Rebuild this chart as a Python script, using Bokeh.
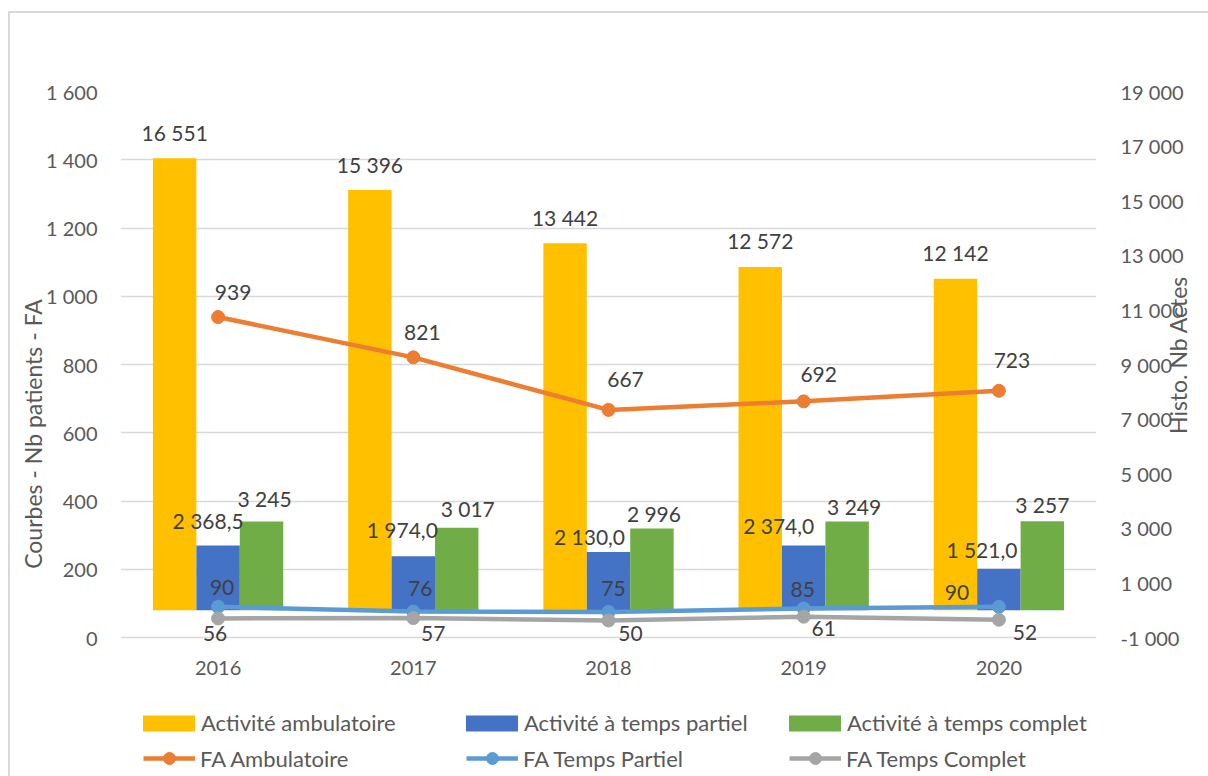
import math

from bokeh.core.properties import value
from bokeh.embed import file_html
from bokeh.models import (ColumnDataSource, FactorRange, FixedTicker, Legend,
                          LegendItem, LinearAxis, Range1d)
from bokeh.plotting import figure
from bokeh.resources import INLINE
from bokeh.transform import dodge

# ---- data -------------------------------------------------------------
years = ["2016", "2017", "2018", "2019", "2020"]

# bars (right axis): number of acts
actes_ambulatoire = [16551, 15396, 13442, 12572, 12142]
actes_temps_partiel = [2368.5, 1974.0, 2130.0, 2374.0, 1521.0]
actes_temps_complet = [3245, 3017, 2996, 3249, 3257]

# curves (left axis): number of patients
fa_ambulatoire = [939, 821, 667, 692, 723]
fa_temps_partiel = [90, 76, 75, 85, 90]
fa_temps_complet = [56, 57, 50, 61, 52]

left_ticks = [0, 200, 400, 600, 800, 1000, 1200, 1400, 1600]
right_ticks = [-1000, 1000, 3000, 5000, 7000, 9000, 11000, 13000, 15000, 17000, 19000]

# label nudges in pixels: (right, up) from the anchor point
nudge_ambulatoire = [(0, 26), (0, 25), (0, 26), (0, 26), (0, 26)]
nudge_temps_partiel = [(-10, 25), (-11, 27), (-19, 16), (-25, 20), (-17, 19)]
nudge_temps_complet = [(3, 23), (11, 19), (2, 15), (7, 15), (0, 17)]
nudge_fa_amb = [(15, 25), (9, 25), (17, 30), (15, 27), (13, 30)]
nudge_fa_partiel = [(4, 19), (7, 23), (5, 23), (-1, 19), (-42, 14)]
nudge_fa_complet = [(-3, -15), (20, -15), (22, -13), (20, -12), (26, -13)]

# ---- styling ----------------------------------------------------------
FONT = "Lato"
C_AMB, C_PART, C_COMP = "#FFC000", "#4472C4", "#70AD47"
C_FA_AMB, C_FA_PART, C_FA_COMP = "#ED7D31", "#5B9BD5", "#A5A5A5"
AXIS_TEXT = "#595959"
LABEL_TEXT = "#404040"
BAR_W = 0.2225
# the plot area continues below the zero line to hold the category labels and legend
BOTTOM_PAD = 139 / 546


def fmt_int(v):
    return f"{v:,.0f}".replace(",", " ")


def fmt_dec(v):
    return f"{v:,.1f}".replace(",", " ").replace(".", ",")


def offsets(nudges):
    return [dx for dx, _ in nudges], [-dy for _, dy in nudges]


src = ColumnDataSource(dict(
    year=years,
    amb=actes_ambulatoire, part=actes_temps_partiel, comp=actes_temps_complet,
    fa_amb=fa_ambulatoire, fa_part=fa_temps_partiel, fa_comp=fa_temps_complet,
    amb_txt=[fmt_int(v) for v in actes_ambulatoire],
    part_txt=[fmt_dec(v) for v in actes_temps_partiel],
    comp_txt=[fmt_int(v) for v in actes_temps_complet],
    fa_amb_txt=[fmt_int(v) for v in fa_ambulatoire],
    fa_part_txt=[fmt_int(v) for v in fa_temps_partiel],
    fa_comp_txt=[fmt_int(v) for v in fa_temps_complet],
))
for key, nud in [("amb", nudge_ambulatoire), ("part", nudge_temps_partiel),
                 ("comp", nudge_temps_complet), ("fa_amb", nudge_fa_amb),
                 ("fa_part", nudge_fa_partiel), ("fa_comp", nudge_fa_complet)]:
    xo, yo = offsets(nud)
    src.data[key + "_dx"] = xo
    src.data[key + "_dy"] = yo

l_lo, l_hi = left_ticks[0], left_ticks[-1]
r_lo, r_hi = right_ticks[0], right_ticks[-1]

p = figure(
    width=1208, height=776,
    x_range=FactorRange(*years),
    y_range=Range1d(l_lo - BOTTOM_PAD * (l_hi - l_lo), l_hi),
    output_backend="svg", toolbar_location=None,
    min_border_left=120, min_border_right=111, min_border_top=91, min_border_bottom=0,
    background_fill_color="white", border_fill_color=None,
)
p.extra_y_ranges = {"actes": Range1d(r_lo - BOTTOM_PAD * (r_hi - r_lo), r_hi)}
p.outline_line_color = None
# light grey chart-area border along the top and left edges
p.styles = {"box-shadow": "inset 8px 11px 0 0 white, inset 10px 13px 0 0 #d9d9d9",
            "background-color": "white"}

# ---- bars -------------------------------------------------------------
bar_specs = [("amb", -BAR_W, C_AMB), ("part", 0.0, C_PART), ("comp", BAR_W, C_COMP)]
bar_renderers = []
for key, shift, color in bar_specs:
    r = p.vbar(x=dodge("year", shift, range=p.x_range), top=key, bottom=0, width=BAR_W,
               source=src, y_range_name="actes", fill_color=color, line_color=None)
    bar_renderers.append(r)

# ---- curves -----------------------------------------------------------
line_specs = [("fa_amb", C_FA_AMB), ("fa_part", C_FA_PART), ("fa_comp", C_FA_COMP)]
line_renderers = []
for key, color in line_specs:
    ln = p.line(x="year", y=key, source=src, line_color=color, line_width=4.5)
    mk = p.scatter(x="year", y=key, source=src, size=13, fill_color=color, line_color=color)
    line_renderers.append([ln, mk])

# ---- data labels ------------------------------------------------------
text_style = dict(text_font=value(FONT), text_font_size=value("21px"),
                  text_color=LABEL_TEXT, text_align="center", text_baseline="middle")
for key, shift, _ in bar_specs:
    p.text(x=dodge("year", shift, range=p.x_range), y=key, text=key + "_txt",
           x_offset=key + "_dx", y_offset=key + "_dy", source=src,
           y_range_name="actes", **text_style)
for key, _ in line_specs:
    p.text(x="year", y=key, text=key + "_txt", x_offset=key + "_dx",
           y_offset=key + "_dy", source=src, **text_style)

# ---- axes -------------------------------------------------------------
def style_axis(ax):
    ax.axis_line_color = None
    ax.major_tick_line_color = None
    ax.minor_tick_line_color = None
    ax.major_tick_out = 0
    ax.major_tick_in = 0
    ax.minor_tick_out = 0
    ax.minor_tick_in = 0
    ax.major_label_text_font = FONT
    ax.major_label_text_font_size = "20px"
    ax.major_label_text_color = AXIS_TEXT
    ax.axis_label_text_font = FONT
    ax.axis_label_text_font_size = "23px"
    ax.axis_label_text_font_style = "normal"
    ax.axis_label_text_color = AXIS_TEXT


yl = p.yaxis[0]
yl.ticker = FixedTicker(ticks=left_ticks)
yl.major_label_overrides = {t: fmt_int(t) for t in left_ticks}
yl.major_label_standoff = 23
yl.axis_label = "Courbes - Nb patients - FA"
yl.axis_label_standoff = -4
style_axis(yl)

yr = LinearAxis(y_range_name="actes", ticker=FixedTicker(ticks=right_ticks))
yr.major_label_overrides = {t: fmt_int(t) for t in right_ticks}
yr.major_label_standoff = 24
yr.axis_label = "Histo. Nb Actes"
yr.axis_label_standoff = -9
yr.axis_label_orientation = math.pi / 2
style_axis(yr)
p.add_layout(yr, "right")

# category axis sits on the zero line
xa = p.xaxis[0]
xa.fixed_location = 0
xa.major_label_standoff = 23
style_axis(xa)

p.xgrid.grid_line_color = None
p.ygrid.ticker = FixedTicker(ticks=left_ticks)
p.ygrid.grid_line_color = "#d9d9d9"
p.ygrid.grid_line_width = 1.5

# ---- legends ----------------------------------------------------------
legend_style = dict(label_text_font=FONT, label_text_font_size="22px",
                    label_text_color=AXIS_TEXT, border_line_color=None,
                    background_fill_alpha=0, padding=0, margin=0,
                    orientation="horizontal")
bar_legend = Legend(
    items=[LegendItem(label="Activité ambulatoire", renderers=[bar_renderers[0]]),
           LegendItem(label="Activité à temps partiel", renderers=[bar_renderers[1]]),
           LegendItem(label="Activité à temps complet", renderers=[bar_renderers[2]])],
    glyph_width=65, glyph_height=20, label_standoff=0, label_width=250, spacing=8,
    location=(16, 40), **legend_style)
line_legend = Legend(
    items=[LegendItem(label="FA Ambulatoire", renderers=line_renderers[0]),
           LegendItem(label="FA Temps Partiel", renderers=line_renderers[1]),
           LegendItem(label="FA Temps Complet", renderers=line_renderers[2])],
    glyph_width=52, glyph_height=30, label_standoff=5, label_width=258, spacing=8,
    location=(23, 3), **legend_style)
p.add_layout(bar_legend, "center")
p.add_layout(line_legend, "center")

open("out.html", "w").write(file_html(p, INLINE))
